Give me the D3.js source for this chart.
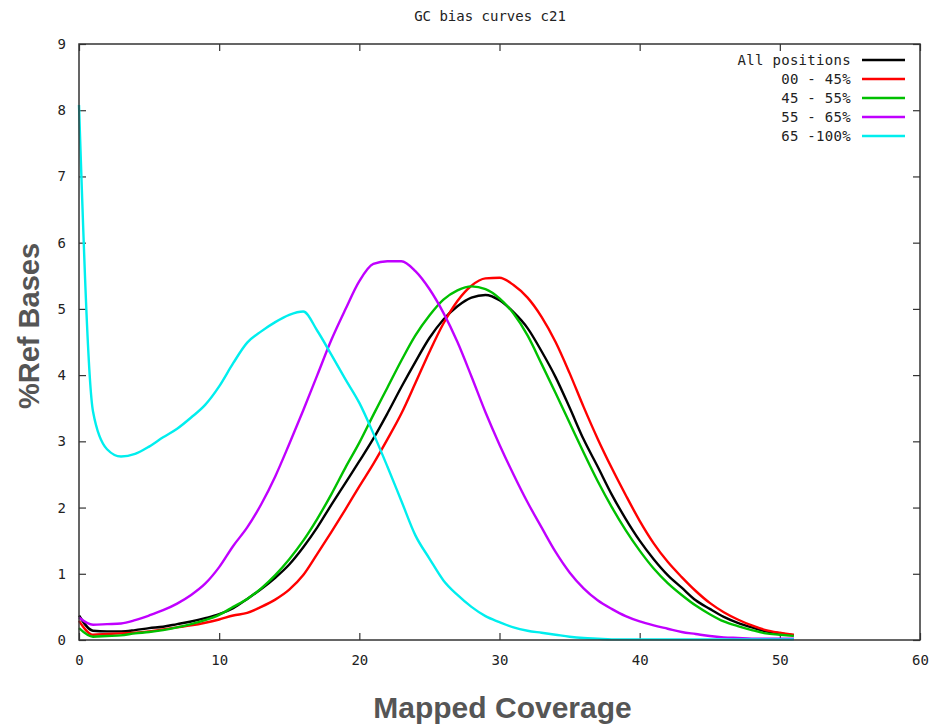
<!DOCTYPE html>
<html>
<head>
<meta charset="utf-8">
<script src="https://cdn.jsdelivr.net/npm/d3@7"></script>
<style>
  body { margin: 0; background: #fff; }
  #wrapper { width: 931px; height: 725px; }
</style>
</head>
<body>
<div id="wrapper"></div>
<script>
// coverage values (x) shared by all series
const coverage = d3.range(0, 52);

const allPositions = [0.37, 0.14, 0.13, 0.13, 0.15, 0.18, 0.20, 0.24, 0.28, 0.33,
  0.39, 0.48, 0.62, 0.77, 0.94, 1.14, 1.40, 1.70, 2.04, 2.37,
  2.70, 3.04, 3.42, 3.82, 4.20, 4.56, 4.84, 5.04, 5.17, 5.21,
  5.13, 4.95, 4.71, 4.36, 3.97, 3.51, 3.03, 2.62, 2.20, 1.83,
  1.50, 1.22, 0.98, 0.79, 0.60, 0.47, 0.35, 0.26, 0.19, 0.13,
  0.10, 0.07];
const gc00to45 = [0.29, 0.08, 0.09, 0.10, 0.11, 0.13, 0.16, 0.19, 0.22, 0.26,
  0.31, 0.37, 0.41, 0.50, 0.61, 0.76, 0.98, 1.30, 1.63, 1.97,
  2.32, 2.66, 3.03, 3.42, 3.88, 4.35, 4.78, 5.12, 5.35, 5.46,
  5.47, 5.36, 5.17, 4.88, 4.50, 4.03, 3.52, 3.04, 2.60, 2.19,
  1.80, 1.46, 1.18, 0.95, 0.74, 0.56, 0.42, 0.31, 0.22, 0.15,
  0.11, 0.08];
const gc45to55 = [0.18, 0.05, 0.06, 0.07, 0.10, 0.12, 0.15, 0.19, 0.24, 0.30,
  0.38, 0.50, 0.62, 0.78, 0.98, 1.22, 1.50, 1.83, 2.20, 2.60,
  2.98, 3.40, 3.81, 4.22, 4.60, 4.90, 5.14, 5.28, 5.34, 5.30,
  5.16, 4.93, 4.60, 4.17, 3.73, 3.28, 2.83, 2.40, 2.01, 1.66,
  1.35, 1.08, 0.86, 0.68, 0.52, 0.39, 0.28, 0.21, 0.15, 0.10,
  0.08, 0.06];
const gc55to65 = [0.34, 0.23, 0.24, 0.25, 0.30, 0.37, 0.45, 0.55, 0.68, 0.85,
  1.10, 1.42, 1.70, 2.05, 2.47, 2.96, 3.47, 4.00, 4.53, 4.99,
  5.42, 5.68, 5.72, 5.72, 5.57, 5.30, 4.94, 4.50, 3.98, 3.44,
  2.95, 2.50, 2.08, 1.70, 1.33, 1.02, 0.78, 0.60, 0.47, 0.36,
  0.28, 0.22, 0.17, 0.12, 0.09, 0.06, 0.04, 0.03, 0.02, 0.02,
  0.02, 0.02];
const gc65to100 = [8.08, 3.45, 2.88, 2.77, 2.81, 2.92, 3.06, 3.19, 3.36, 3.55,
  3.83, 4.18, 4.49, 4.66, 4.80, 4.91, 4.96, 4.67, 4.31, 3.94,
  3.58, 3.12, 2.62, 2.10, 1.58, 1.23, 0.90, 0.68, 0.50, 0.36,
  0.27, 0.19, 0.14, 0.11, 0.08, 0.05, 0.03, 0.02, 0.01, 0.01,
  0.01, 0.01, 0.01, 0.01, 0.01, 0.01, 0.01, 0.01, 0.01, 0.01,
  0.01, 0.01];

const seriesNames = ["All positions", "00 - 45%", "45 - 55%", "55 - 65%", "65 -100%"];
const seriesValues = [allPositions, gc00to45, gc45to55, gc55to65, gc65to100];
const seriesColors = ["#000000", "#ff0000", "#00c000", "#c000ff", "#00eeee"];

const xTicks = [0, 10, 20, 30, 40, 50, 60];
const yTicks = [0, 1, 2, 3, 4, 5, 6, 7, 8, 9];

function drawChart() {
  // step 1: dimensions
  let dimensions = {
    width: 931,
    height: 725,
    margin: { top: 44, right: 11, bottom: 85, left: 79 },
  };
  dimensions.boundWidth = dimensions.width - dimensions.margin.left - dimensions.margin.right;
  dimensions.boundHeight = dimensions.height - dimensions.margin.top - dimensions.margin.bottom;

  const monoFont = "'DejaVu Sans Mono', monospace";

  // step 2: canvas
  const wrapper = d3.select("#wrapper")
    .append("svg")
    .attr("width", dimensions.width)
    .attr("height", dimensions.height);
  const bounds = wrapper.append("g")
    .attr("transform", `translate(${dimensions.margin.left},${dimensions.margin.top})`);

  // step 3: scales
  const xScale = d3.scaleLinear()
    .domain([0, 60])
    .range([0, dimensions.boundWidth]);
  const yScale = d3.scaleLinear()
    .domain([0, 9])
    .range([dimensions.boundHeight, 0]);

  // step 4: axes (ticks pointing inward on all four sides)
  const tickLen = 7;
  const styleAxis = g => {
    g.select(".domain").remove();
    g.selectAll(".tick line").attr("stroke", "#333").attr("stroke-width", 1.2);
    g.selectAll(".tick text")
      .attr("fill", "#222")
      .style("font-family", monoFont)
      .style("font-size", "14px");
  };
  bounds.append("g")
    .attr("transform", `translate(0,${dimensions.boundHeight})`)
    .call(d3.axisBottom(xScale).tickValues(xTicks).tickSize(-tickLen).tickPadding(15))
    .call(styleAxis);
  bounds.append("g")
    .call(d3.axisTop(xScale).tickValues(xTicks).tickSize(-tickLen).tickFormat(""))
    .call(styleAxis);
  bounds.append("g")
    .call(d3.axisLeft(yScale).tickValues(yTicks).tickSize(-tickLen).tickPadding(13))
    .call(styleAxis);
  bounds.append("g")
    .attr("transform", `translate(${dimensions.boundWidth},0)`)
    .call(d3.axisRight(yScale).tickValues(yTicks).tickSize(-tickLen).tickFormat(""))
    .call(styleAxis);

  // step 5: curves
  const lineGenerator = d3.line()
    .x((d, i) => xScale(coverage[i]))
    .y(d => yScale(d))
    .curve(d3.curveMonotoneX);

  const plot = bounds.append("g");
  seriesValues.forEach((values, i) => {
    plot.append("path")
      .attr("d", lineGenerator(values))
      .attr("fill", "none")
      .attr("stroke", seriesColors[i])
      .attr("stroke-width", 2.4)
      .attr("stroke-linejoin", "round");
  });

  // frame
  bounds.append("rect")
    .attr("width", dimensions.boundWidth)
    .attr("height", dimensions.boundHeight)
    .attr("fill", "none")
    .attr("stroke", "#333")
    .attr("stroke-width", 1.5);

  // step 6: legend
  const legend = bounds.append("g")
    .attr("transform", `translate(${dimensions.boundWidth - 69},16)`);
  seriesNames.forEach((name, i) => {
    const row = legend.append("g").attr("transform", `translate(0,${i * 19})`);
    row.append("text")
      .attr("x", 0)
      .attr("y", 0)
      .attr("dy", "0.35em")
      .attr("text-anchor", "end")
      .attr("fill", "#222")
      .style("font-family", monoFont)
      .style("font-size", "14px")
      .style("letter-spacing", "0.3px")
      .text(name);
    row.append("line")
      .attr("x1", 11)
      .attr("x2", 54)
      .attr("stroke", seriesColors[i])
      .attr("stroke-width", 2.4);
  });

  // titles
  wrapper.append("text")
    .attr("x", 490)
    .attr("y", 21)
    .attr("text-anchor", "middle")
    .attr("fill", "#222")
    .style("font-family", monoFont)
    .style("font-size", "14px")
    .text("GC bias curves c21");

  wrapper.append("text")
    .attr("x", dimensions.margin.left + dimensions.boundWidth / 2 + 3)
    .attr("y", 718)
    .attr("text-anchor", "middle")
    .attr("fill", "#555")
    .style("font-family", "'Liberation Sans', Arial, sans-serif")
    .style("font-weight", "bold")
    .style("font-size", "30px")
    .text("Mapped Coverage");

  wrapper.append("text")
    .attr("transform", "translate(39,326) rotate(-90)")
    .attr("text-anchor", "middle")
    .attr("fill", "#555")
    .style("font-family", "'Liberation Sans', Arial, sans-serif")
    .style("font-weight", "bold")
    .style("font-size", "29px")
    .text("%Ref Bases");
}
drawChart();
</script>
</body>
</html>
